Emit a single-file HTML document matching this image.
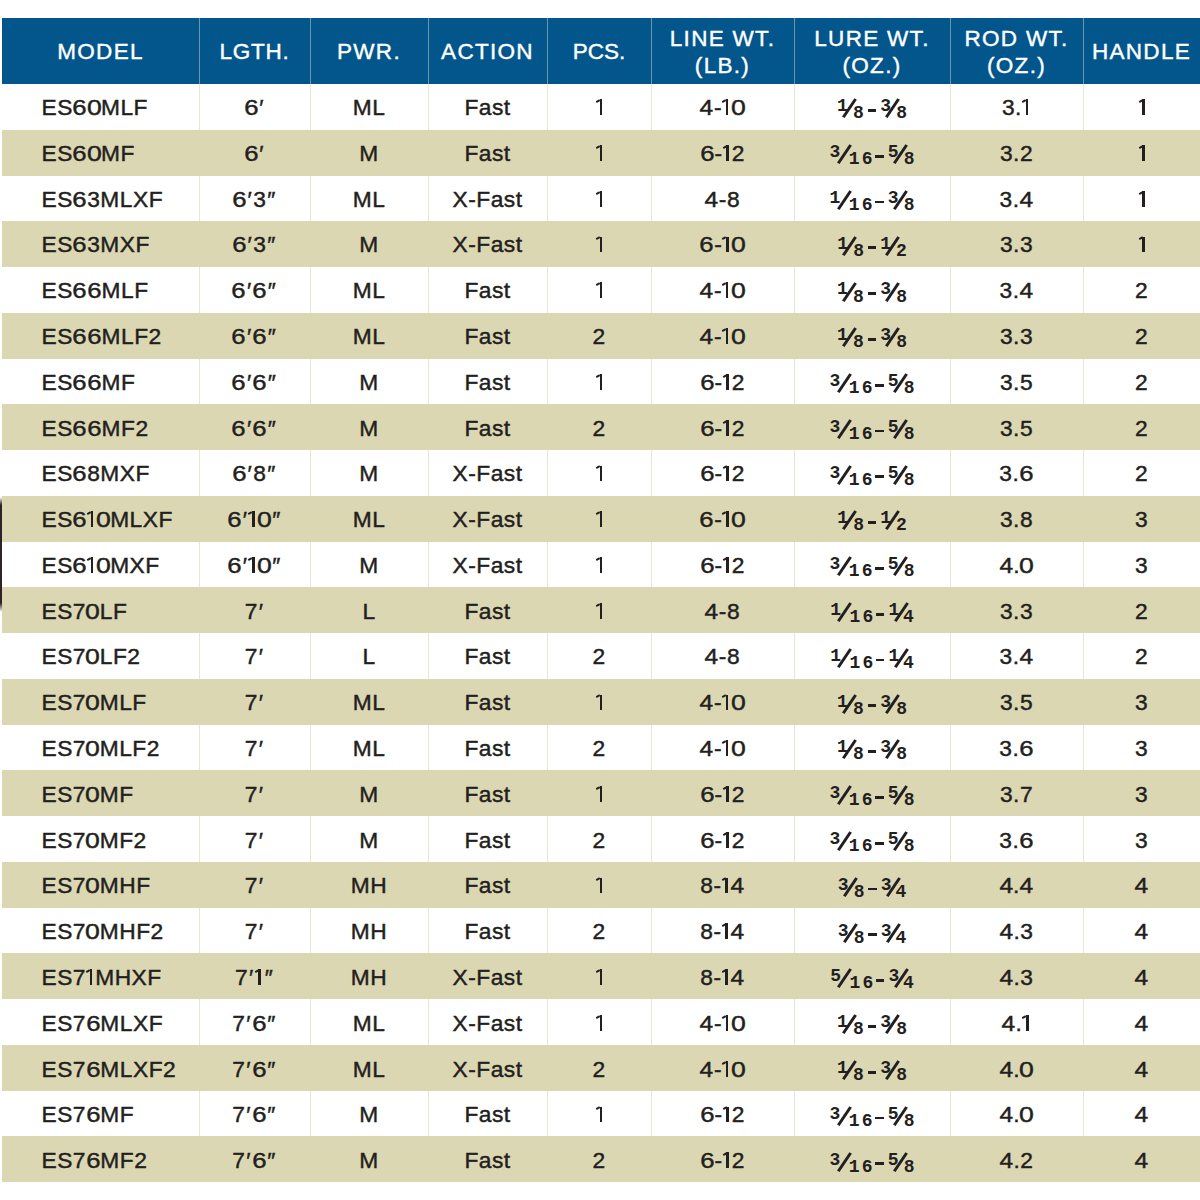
<!DOCTYPE html><html><head><meta charset="utf-8"><style>

*{margin:0;padding:0;box-sizing:border-box}
html,body{width:1200px;height:1200px;overflow:hidden;background:#fff}
body{position:relative;font-family:"Liberation Sans",sans-serif;color:#231f20}
.hdr{position:absolute;left:2px;top:18px;width:1198px;height:66px;background:#02568b}
.hc{position:absolute;top:19.2px;height:66px;display:flex;align-items:center;justify-content:center;text-align:center;color:#fff;font-size:22.5px;line-height:27.5px;letter-spacing:1.3px;-webkit-text-stroke:0.4px #fff;white-space:nowrap}
.hs{position:absolute;top:18px;height:66px;width:1px;background:#6e97a6}
.bs{position:absolute;top:84px;height:1098px;width:1px;background:#e7e5d3}
.tan{position:absolute;left:2px;width:1198px;background:#dcd7b3}
.c{position:absolute;text-align:center;font-size:22.75px;white-space:nowrap;letter-spacing:0.5px;-webkit-text-stroke:0.45px #231f20;padding-top:0.95px}
.c0{text-align:left;padding-left:39.5px}
.lw{letter-spacing:0}
.fn,.fd{font-family:"Liberation Mono",monospace;font-weight:bold;font-size:18px;position:relative;display:inline-block;letter-spacing:0;-webkit-text-stroke:0px #231f20}
.fn i,.fd i{font-style:normal;margin-left:2.3px}
.fn{top:-3.7px}
.fd{top:3.4px}
.fs{display:inline-block;width:5.2px;height:0;position:relative}
.fs::after{content:"";position:absolute;left:0.35px;top:-17.6px;width:2.5px;height:22.0px;background:#231f20;transform:rotate(34.0deg)}
.fs.c16::after{left:2.5500000000000003px}
.dash{display:inline-block;width:8.6px;height:2.8px;background:#231f20;vertical-align:3.1px;margin:0 4.0px 0 3.7px}
.one{display:inline-block;position:relative;width:9.2px;height:15.75px}
.one::before{content:"";position:absolute;left:5.3px;top:0;width:2.4px;height:100%;background:#231f20}
.one::after{content:"";position:absolute;left:1.6px;top:0.8px;width:4.4px;height:2.1px;background:#231f20;transform:rotate(-28.0deg)}
.o2::before{left:3.9px}
.o2::after{left:0.20000000000000018px}
.z{display:inline-block;transform:scaleX(1.17);margin:0 0.3px}
.s6{display:inline-block;transform:scaleX(1.13);margin:0 0.6px}
.s4{display:inline-block;transform:scaleX(1.08);margin:0 0.4px}
.pr{margin:0 0.9px}
.lm{position:absolute;left:0;top:497px;width:2px;height:115px;background:linear-gradient(#fff0 0px,#2d2428 8px,#2d2428 106px,#fff0 115px)}

</style></head><body>
<div class="bs" style="left:199px"></div>
<div class="bs" style="left:310px"></div>
<div class="bs" style="left:428px"></div>
<div class="bs" style="left:547px"></div>
<div class="bs" style="left:651px"></div>
<div class="bs" style="left:794px"></div>
<div class="bs" style="left:950px"></div>
<div class="bs" style="left:1083px"></div>
<div class="tan" style="top:129.75px;height:45.75px"></div>
<div class="tan" style="top:221.25px;height:45.75px"></div>
<div class="tan" style="top:312.75px;height:45.75px"></div>
<div class="tan" style="top:404.25px;height:45.75px"></div>
<div class="tan" style="top:495.75px;height:45.75px"></div>
<div class="tan" style="top:587.25px;height:45.75px"></div>
<div class="tan" style="top:678.75px;height:45.75px"></div>
<div class="tan" style="top:770.25px;height:45.75px"></div>
<div class="tan" style="top:861.75px;height:45.75px"></div>
<div class="tan" style="top:953.25px;height:45.75px"></div>
<div class="tan" style="top:1044.75px;height:45.75px"></div>
<div class="tan" style="top:1136.25px;height:45.75px"></div>
<div class="hdr"></div>
<div class="hs" style="left:199px"></div>
<div class="hs" style="left:310px"></div>
<div class="hs" style="left:428px"></div>
<div class="hs" style="left:547px"></div>
<div class="hs" style="left:651px"></div>
<div class="hs" style="left:794px"></div>
<div class="hs" style="left:950px"></div>
<div class="hs" style="left:1083px"></div>
<div class="hc" style="left:2px;width:197px"><div>MODEL</div></div>
<div class="hc" style="left:199px;width:111px;letter-spacing:0.75px"><div>LGTH.</div></div>
<div class="hc" style="left:310px;width:118px"><div>PWR.</div></div>
<div class="hc" style="left:428px;width:119px"><div>ACTION</div></div>
<div class="hc" style="left:547px;width:104px;letter-spacing:0.0px"><div>PCS.</div></div>
<div class="hc" style="left:651px;width:143px"><div>LINE WT.<br>(LB.)</div></div>
<div class="hc" style="left:794px;width:156px"><div>LURE WT.<br>(OZ.)</div></div>
<div class="hc" style="left:950px;width:133px"><div>ROD WT.<br>(OZ.)</div></div>
<div class="hc" style="left:1083px;width:117px"><div>HANDLE</div></div>
<div class="c c0" style="left:2px;width:197px;top:84.0px;height:45.75px;line-height:45.75px">ES<span class="s6">6</span><span class="z">0</span>MLF</div>
<div class="c" style="left:199px;width:111px;top:84.0px;height:45.75px;line-height:45.75px"><span class="s6">6</span><span class="pr">′</span></div>
<div class="c" style="left:310px;width:118px;top:84.0px;height:45.75px;line-height:45.75px">ML</div>
<div class="c" style="left:428px;width:119px;top:84.0px;height:45.75px;line-height:45.75px">Fast</div>
<div class="c" style="left:547px;width:104px;top:84.0px;height:45.75px;line-height:45.75px"><span class="one"></span></div>
<div class="c" style="left:651px;width:143px;top:84.0px;height:45.75px;line-height:45.75px"><span class="s4">4</span>-<span class="one o2"></span><span class="z">0</span></div>
<div class="c" style="left:794px;width:156px;top:84.0px;height:45.75px;line-height:45.75px"><span class="lw"><span class="fn">1</span><span class="fs"></span><span class="fd">8</span><span class="dash"></span><span class="fn">3</span><span class="fs"></span><span class="fd">8</span></span></div>
<div class="c" style="left:950px;width:133px;top:84.0px;height:45.75px;line-height:45.75px">3.<span class="one o2"></span></div>
<div class="c" style="left:1083px;width:117px;top:84.0px;height:45.75px;line-height:45.75px"><span class="one"></span></div>
<div class="c c0" style="left:2px;width:197px;top:129.795px;height:45.75px;line-height:45.75px">ES<span class="s6">6</span><span class="z">0</span>MF</div>
<div class="c" style="left:199px;width:111px;top:129.795px;height:45.75px;line-height:45.75px"><span class="s6">6</span><span class="pr">′</span></div>
<div class="c" style="left:310px;width:118px;top:129.795px;height:45.75px;line-height:45.75px">M</div>
<div class="c" style="left:428px;width:119px;top:129.795px;height:45.75px;line-height:45.75px">Fast</div>
<div class="c" style="left:547px;width:104px;top:129.795px;height:45.75px;line-height:45.75px"><span class="one"></span></div>
<div class="c" style="left:651px;width:143px;top:129.795px;height:45.75px;line-height:45.75px"><span class="s6">6</span>-<span class="one o2"></span>2</div>
<div class="c" style="left:794px;width:156px;top:129.795px;height:45.75px;line-height:45.75px"><span class="lw"><span class="fn">3</span><span class="fs c16"></span><span class="fd" style="margin-left:3.3px;margin-right:-1.2px">1<i>6</i></span><span class="dash"></span><span class="fn">5</span><span class="fs"></span><span class="fd">8</span></span></div>
<div class="c" style="left:950px;width:133px;top:129.795px;height:45.75px;line-height:45.75px">3.2</div>
<div class="c" style="left:1083px;width:117px;top:129.795px;height:45.75px;line-height:45.75px"><span class="one"></span></div>
<div class="c c0" style="left:2px;width:197px;top:175.59px;height:45.75px;line-height:45.75px">ES<span class="s6">6</span>3MLXF</div>
<div class="c" style="left:199px;width:111px;top:175.59px;height:45.75px;line-height:45.75px"><span class="s6">6</span><span class="pr">′</span>3<span class="pr">″</span></div>
<div class="c" style="left:310px;width:118px;top:175.59px;height:45.75px;line-height:45.75px">ML</div>
<div class="c" style="left:428px;width:119px;top:175.59px;height:45.75px;line-height:45.75px">X-Fast</div>
<div class="c" style="left:547px;width:104px;top:175.59px;height:45.75px;line-height:45.75px"><span class="one"></span></div>
<div class="c" style="left:651px;width:143px;top:175.59px;height:45.75px;line-height:45.75px"><span class="s4">4</span>-8</div>
<div class="c" style="left:794px;width:156px;top:175.59px;height:45.75px;line-height:45.75px"><span class="lw"><span class="fn">1</span><span class="fs c16"></span><span class="fd" style="margin-left:3.3px;margin-right:-1.2px">1<i>6</i></span><span class="dash"></span><span class="fn">3</span><span class="fs"></span><span class="fd">8</span></span></div>
<div class="c" style="left:950px;width:133px;top:175.59px;height:45.75px;line-height:45.75px">3.<span class="s4">4</span></div>
<div class="c" style="left:1083px;width:117px;top:175.59px;height:45.75px;line-height:45.75px"><span class="one"></span></div>
<div class="c c0" style="left:2px;width:197px;top:221.385px;height:45.75px;line-height:45.75px">ES<span class="s6">6</span>3MXF</div>
<div class="c" style="left:199px;width:111px;top:221.385px;height:45.75px;line-height:45.75px"><span class="s6">6</span><span class="pr">′</span>3<span class="pr">″</span></div>
<div class="c" style="left:310px;width:118px;top:221.385px;height:45.75px;line-height:45.75px">M</div>
<div class="c" style="left:428px;width:119px;top:221.385px;height:45.75px;line-height:45.75px">X-Fast</div>
<div class="c" style="left:547px;width:104px;top:221.385px;height:45.75px;line-height:45.75px"><span class="one"></span></div>
<div class="c" style="left:651px;width:143px;top:221.385px;height:45.75px;line-height:45.75px"><span class="s6">6</span>-<span class="one o2"></span><span class="z">0</span></div>
<div class="c" style="left:794px;width:156px;top:221.385px;height:45.75px;line-height:45.75px"><span class="lw"><span class="fn">1</span><span class="fs"></span><span class="fd">8</span><span class="dash"></span><span class="fn">1</span><span class="fs"></span><span class="fd" style="margin-left:-0.3px">2</span></span></div>
<div class="c" style="left:950px;width:133px;top:221.385px;height:45.75px;line-height:45.75px">3.3</div>
<div class="c" style="left:1083px;width:117px;top:221.385px;height:45.75px;line-height:45.75px"><span class="one"></span></div>
<div class="c c0" style="left:2px;width:197px;top:267.18px;height:45.75px;line-height:45.75px">ES<span class="s6">6</span><span class="s6">6</span>MLF</div>
<div class="c" style="left:199px;width:111px;top:267.18px;height:45.75px;line-height:45.75px"><span class="s6">6</span><span class="pr">′</span><span class="s6">6</span><span class="pr">″</span></div>
<div class="c" style="left:310px;width:118px;top:267.18px;height:45.75px;line-height:45.75px">ML</div>
<div class="c" style="left:428px;width:119px;top:267.18px;height:45.75px;line-height:45.75px">Fast</div>
<div class="c" style="left:547px;width:104px;top:267.18px;height:45.75px;line-height:45.75px"><span class="one"></span></div>
<div class="c" style="left:651px;width:143px;top:267.18px;height:45.75px;line-height:45.75px"><span class="s4">4</span>-<span class="one o2"></span><span class="z">0</span></div>
<div class="c" style="left:794px;width:156px;top:267.18px;height:45.75px;line-height:45.75px"><span class="lw"><span class="fn">1</span><span class="fs"></span><span class="fd">8</span><span class="dash"></span><span class="fn">3</span><span class="fs"></span><span class="fd">8</span></span></div>
<div class="c" style="left:950px;width:133px;top:267.18px;height:45.75px;line-height:45.75px">3.<span class="s4">4</span></div>
<div class="c" style="left:1083px;width:117px;top:267.18px;height:45.75px;line-height:45.75px">2</div>
<div class="c c0" style="left:2px;width:197px;top:312.975px;height:45.75px;line-height:45.75px">ES<span class="s6">6</span><span class="s6">6</span>MLF2</div>
<div class="c" style="left:199px;width:111px;top:312.975px;height:45.75px;line-height:45.75px"><span class="s6">6</span><span class="pr">′</span><span class="s6">6</span><span class="pr">″</span></div>
<div class="c" style="left:310px;width:118px;top:312.975px;height:45.75px;line-height:45.75px">ML</div>
<div class="c" style="left:428px;width:119px;top:312.975px;height:45.75px;line-height:45.75px">Fast</div>
<div class="c" style="left:547px;width:104px;top:312.975px;height:45.75px;line-height:45.75px">2</div>
<div class="c" style="left:651px;width:143px;top:312.975px;height:45.75px;line-height:45.75px"><span class="s4">4</span>-<span class="one o2"></span><span class="z">0</span></div>
<div class="c" style="left:794px;width:156px;top:312.975px;height:45.75px;line-height:45.75px"><span class="lw"><span class="fn">1</span><span class="fs"></span><span class="fd">8</span><span class="dash"></span><span class="fn">3</span><span class="fs"></span><span class="fd">8</span></span></div>
<div class="c" style="left:950px;width:133px;top:312.975px;height:45.75px;line-height:45.75px">3.3</div>
<div class="c" style="left:1083px;width:117px;top:312.975px;height:45.75px;line-height:45.75px">2</div>
<div class="c c0" style="left:2px;width:197px;top:358.77px;height:45.75px;line-height:45.75px">ES<span class="s6">6</span><span class="s6">6</span>MF</div>
<div class="c" style="left:199px;width:111px;top:358.77px;height:45.75px;line-height:45.75px"><span class="s6">6</span><span class="pr">′</span><span class="s6">6</span><span class="pr">″</span></div>
<div class="c" style="left:310px;width:118px;top:358.77px;height:45.75px;line-height:45.75px">M</div>
<div class="c" style="left:428px;width:119px;top:358.77px;height:45.75px;line-height:45.75px">Fast</div>
<div class="c" style="left:547px;width:104px;top:358.77px;height:45.75px;line-height:45.75px"><span class="one"></span></div>
<div class="c" style="left:651px;width:143px;top:358.77px;height:45.75px;line-height:45.75px"><span class="s6">6</span>-<span class="one o2"></span>2</div>
<div class="c" style="left:794px;width:156px;top:358.77px;height:45.75px;line-height:45.75px"><span class="lw"><span class="fn">3</span><span class="fs c16"></span><span class="fd" style="margin-left:3.3px;margin-right:-1.2px">1<i>6</i></span><span class="dash"></span><span class="fn">5</span><span class="fs"></span><span class="fd">8</span></span></div>
<div class="c" style="left:950px;width:133px;top:358.77px;height:45.75px;line-height:45.75px">3.5</div>
<div class="c" style="left:1083px;width:117px;top:358.77px;height:45.75px;line-height:45.75px">2</div>
<div class="c c0" style="left:2px;width:197px;top:404.565px;height:45.75px;line-height:45.75px">ES<span class="s6">6</span><span class="s6">6</span>MF2</div>
<div class="c" style="left:199px;width:111px;top:404.565px;height:45.75px;line-height:45.75px"><span class="s6">6</span><span class="pr">′</span><span class="s6">6</span><span class="pr">″</span></div>
<div class="c" style="left:310px;width:118px;top:404.565px;height:45.75px;line-height:45.75px">M</div>
<div class="c" style="left:428px;width:119px;top:404.565px;height:45.75px;line-height:45.75px">Fast</div>
<div class="c" style="left:547px;width:104px;top:404.565px;height:45.75px;line-height:45.75px">2</div>
<div class="c" style="left:651px;width:143px;top:404.565px;height:45.75px;line-height:45.75px"><span class="s6">6</span>-<span class="one o2"></span>2</div>
<div class="c" style="left:794px;width:156px;top:404.565px;height:45.75px;line-height:45.75px"><span class="lw"><span class="fn">3</span><span class="fs c16"></span><span class="fd" style="margin-left:3.3px;margin-right:-1.2px">1<i>6</i></span><span class="dash"></span><span class="fn">5</span><span class="fs"></span><span class="fd">8</span></span></div>
<div class="c" style="left:950px;width:133px;top:404.565px;height:45.75px;line-height:45.75px">3.5</div>
<div class="c" style="left:1083px;width:117px;top:404.565px;height:45.75px;line-height:45.75px">2</div>
<div class="c c0" style="left:2px;width:197px;top:450.36px;height:45.75px;line-height:45.75px">ES<span class="s6">6</span>8MXF</div>
<div class="c" style="left:199px;width:111px;top:450.36px;height:45.75px;line-height:45.75px"><span class="s6">6</span><span class="pr">′</span>8<span class="pr">″</span></div>
<div class="c" style="left:310px;width:118px;top:450.36px;height:45.75px;line-height:45.75px">M</div>
<div class="c" style="left:428px;width:119px;top:450.36px;height:45.75px;line-height:45.75px">X-Fast</div>
<div class="c" style="left:547px;width:104px;top:450.36px;height:45.75px;line-height:45.75px"><span class="one"></span></div>
<div class="c" style="left:651px;width:143px;top:450.36px;height:45.75px;line-height:45.75px"><span class="s6">6</span>-<span class="one o2"></span>2</div>
<div class="c" style="left:794px;width:156px;top:450.36px;height:45.75px;line-height:45.75px"><span class="lw"><span class="fn">3</span><span class="fs c16"></span><span class="fd" style="margin-left:3.3px;margin-right:-1.2px">1<i>6</i></span><span class="dash"></span><span class="fn">5</span><span class="fs"></span><span class="fd">8</span></span></div>
<div class="c" style="left:950px;width:133px;top:450.36px;height:45.75px;line-height:45.75px">3.<span class="s6">6</span></div>
<div class="c" style="left:1083px;width:117px;top:450.36px;height:45.75px;line-height:45.75px">2</div>
<div class="c c0" style="left:2px;width:197px;top:496.155px;height:45.75px;line-height:45.75px">ES<span class="s6">6</span><span class="one o2"></span><span class="z">0</span>MLXF</div>
<div class="c" style="left:199px;width:111px;top:496.155px;height:45.75px;line-height:45.75px"><span class="s6">6</span><span class="pr">′</span><span class="one o2"></span><span class="z">0</span><span class="pr">″</span></div>
<div class="c" style="left:310px;width:118px;top:496.155px;height:45.75px;line-height:45.75px">ML</div>
<div class="c" style="left:428px;width:119px;top:496.155px;height:45.75px;line-height:45.75px">X-Fast</div>
<div class="c" style="left:547px;width:104px;top:496.155px;height:45.75px;line-height:45.75px"><span class="one"></span></div>
<div class="c" style="left:651px;width:143px;top:496.155px;height:45.75px;line-height:45.75px"><span class="s6">6</span>-<span class="one o2"></span><span class="z">0</span></div>
<div class="c" style="left:794px;width:156px;top:496.155px;height:45.75px;line-height:45.75px"><span class="lw"><span class="fn">1</span><span class="fs"></span><span class="fd">8</span><span class="dash"></span><span class="fn">1</span><span class="fs"></span><span class="fd" style="margin-left:-0.3px">2</span></span></div>
<div class="c" style="left:950px;width:133px;top:496.155px;height:45.75px;line-height:45.75px">3.8</div>
<div class="c" style="left:1083px;width:117px;top:496.155px;height:45.75px;line-height:45.75px">3</div>
<div class="c c0" style="left:2px;width:197px;top:541.95px;height:45.75px;line-height:45.75px">ES<span class="s6">6</span><span class="one o2"></span><span class="z">0</span>MXF</div>
<div class="c" style="left:199px;width:111px;top:541.95px;height:45.75px;line-height:45.75px"><span class="s6">6</span><span class="pr">′</span><span class="one o2"></span><span class="z">0</span><span class="pr">″</span></div>
<div class="c" style="left:310px;width:118px;top:541.95px;height:45.75px;line-height:45.75px">M</div>
<div class="c" style="left:428px;width:119px;top:541.95px;height:45.75px;line-height:45.75px">X-Fast</div>
<div class="c" style="left:547px;width:104px;top:541.95px;height:45.75px;line-height:45.75px"><span class="one"></span></div>
<div class="c" style="left:651px;width:143px;top:541.95px;height:45.75px;line-height:45.75px"><span class="s6">6</span>-<span class="one o2"></span>2</div>
<div class="c" style="left:794px;width:156px;top:541.95px;height:45.75px;line-height:45.75px"><span class="lw"><span class="fn">3</span><span class="fs c16"></span><span class="fd" style="margin-left:3.3px;margin-right:-1.2px">1<i>6</i></span><span class="dash"></span><span class="fn">5</span><span class="fs"></span><span class="fd">8</span></span></div>
<div class="c" style="left:950px;width:133px;top:541.95px;height:45.75px;line-height:45.75px"><span class="s4">4</span>.<span class="z">0</span></div>
<div class="c" style="left:1083px;width:117px;top:541.95px;height:45.75px;line-height:45.75px">3</div>
<div class="c c0" style="left:2px;width:197px;top:587.745px;height:45.75px;line-height:45.75px">ES7<span class="z">0</span>LF</div>
<div class="c" style="left:199px;width:111px;top:587.745px;height:45.75px;line-height:45.75px">7<span class="pr">′</span></div>
<div class="c" style="left:310px;width:118px;top:587.745px;height:45.75px;line-height:45.75px">L</div>
<div class="c" style="left:428px;width:119px;top:587.745px;height:45.75px;line-height:45.75px">Fast</div>
<div class="c" style="left:547px;width:104px;top:587.745px;height:45.75px;line-height:45.75px"><span class="one"></span></div>
<div class="c" style="left:651px;width:143px;top:587.745px;height:45.75px;line-height:45.75px"><span class="s4">4</span>-8</div>
<div class="c" style="left:794px;width:156px;top:587.745px;height:45.75px;line-height:45.75px"><span class="lw"><span class="fn">1</span><span class="fs c16"></span><span class="fd" style="margin-left:3.3px;margin-right:-1.2px">1<i>6</i></span><span class="dash"></span><span class="fn">1</span><span class="fs"></span><span class="fd" style="margin-left:-1.4px">4</span></span></div>
<div class="c" style="left:950px;width:133px;top:587.745px;height:45.75px;line-height:45.75px">3.3</div>
<div class="c" style="left:1083px;width:117px;top:587.745px;height:45.75px;line-height:45.75px">2</div>
<div class="c c0" style="left:2px;width:197px;top:633.54px;height:45.75px;line-height:45.75px">ES7<span class="z">0</span>LF2</div>
<div class="c" style="left:199px;width:111px;top:633.54px;height:45.75px;line-height:45.75px">7<span class="pr">′</span></div>
<div class="c" style="left:310px;width:118px;top:633.54px;height:45.75px;line-height:45.75px">L</div>
<div class="c" style="left:428px;width:119px;top:633.54px;height:45.75px;line-height:45.75px">Fast</div>
<div class="c" style="left:547px;width:104px;top:633.54px;height:45.75px;line-height:45.75px">2</div>
<div class="c" style="left:651px;width:143px;top:633.54px;height:45.75px;line-height:45.75px"><span class="s4">4</span>-8</div>
<div class="c" style="left:794px;width:156px;top:633.54px;height:45.75px;line-height:45.75px"><span class="lw"><span class="fn">1</span><span class="fs c16"></span><span class="fd" style="margin-left:3.3px;margin-right:-1.2px">1<i>6</i></span><span class="dash"></span><span class="fn">1</span><span class="fs"></span><span class="fd" style="margin-left:-1.4px">4</span></span></div>
<div class="c" style="left:950px;width:133px;top:633.54px;height:45.75px;line-height:45.75px">3.<span class="s4">4</span></div>
<div class="c" style="left:1083px;width:117px;top:633.54px;height:45.75px;line-height:45.75px">2</div>
<div class="c c0" style="left:2px;width:197px;top:679.335px;height:45.75px;line-height:45.75px">ES7<span class="z">0</span>MLF</div>
<div class="c" style="left:199px;width:111px;top:679.335px;height:45.75px;line-height:45.75px">7<span class="pr">′</span></div>
<div class="c" style="left:310px;width:118px;top:679.335px;height:45.75px;line-height:45.75px">ML</div>
<div class="c" style="left:428px;width:119px;top:679.335px;height:45.75px;line-height:45.75px">Fast</div>
<div class="c" style="left:547px;width:104px;top:679.335px;height:45.75px;line-height:45.75px"><span class="one"></span></div>
<div class="c" style="left:651px;width:143px;top:679.335px;height:45.75px;line-height:45.75px"><span class="s4">4</span>-<span class="one o2"></span><span class="z">0</span></div>
<div class="c" style="left:794px;width:156px;top:679.335px;height:45.75px;line-height:45.75px"><span class="lw"><span class="fn">1</span><span class="fs"></span><span class="fd">8</span><span class="dash"></span><span class="fn">3</span><span class="fs"></span><span class="fd">8</span></span></div>
<div class="c" style="left:950px;width:133px;top:679.335px;height:45.75px;line-height:45.75px">3.5</div>
<div class="c" style="left:1083px;width:117px;top:679.335px;height:45.75px;line-height:45.75px">3</div>
<div class="c c0" style="left:2px;width:197px;top:725.13px;height:45.75px;line-height:45.75px">ES7<span class="z">0</span>MLF2</div>
<div class="c" style="left:199px;width:111px;top:725.13px;height:45.75px;line-height:45.75px">7<span class="pr">′</span></div>
<div class="c" style="left:310px;width:118px;top:725.13px;height:45.75px;line-height:45.75px">ML</div>
<div class="c" style="left:428px;width:119px;top:725.13px;height:45.75px;line-height:45.75px">Fast</div>
<div class="c" style="left:547px;width:104px;top:725.13px;height:45.75px;line-height:45.75px">2</div>
<div class="c" style="left:651px;width:143px;top:725.13px;height:45.75px;line-height:45.75px"><span class="s4">4</span>-<span class="one o2"></span><span class="z">0</span></div>
<div class="c" style="left:794px;width:156px;top:725.13px;height:45.75px;line-height:45.75px"><span class="lw"><span class="fn">1</span><span class="fs"></span><span class="fd">8</span><span class="dash"></span><span class="fn">3</span><span class="fs"></span><span class="fd">8</span></span></div>
<div class="c" style="left:950px;width:133px;top:725.13px;height:45.75px;line-height:45.75px">3.<span class="s6">6</span></div>
<div class="c" style="left:1083px;width:117px;top:725.13px;height:45.75px;line-height:45.75px">3</div>
<div class="c c0" style="left:2px;width:197px;top:770.925px;height:45.75px;line-height:45.75px">ES7<span class="z">0</span>MF</div>
<div class="c" style="left:199px;width:111px;top:770.925px;height:45.75px;line-height:45.75px">7<span class="pr">′</span></div>
<div class="c" style="left:310px;width:118px;top:770.925px;height:45.75px;line-height:45.75px">M</div>
<div class="c" style="left:428px;width:119px;top:770.925px;height:45.75px;line-height:45.75px">Fast</div>
<div class="c" style="left:547px;width:104px;top:770.925px;height:45.75px;line-height:45.75px"><span class="one"></span></div>
<div class="c" style="left:651px;width:143px;top:770.925px;height:45.75px;line-height:45.75px"><span class="s6">6</span>-<span class="one o2"></span>2</div>
<div class="c" style="left:794px;width:156px;top:770.925px;height:45.75px;line-height:45.75px"><span class="lw"><span class="fn">3</span><span class="fs c16"></span><span class="fd" style="margin-left:3.3px;margin-right:-1.2px">1<i>6</i></span><span class="dash"></span><span class="fn">5</span><span class="fs"></span><span class="fd">8</span></span></div>
<div class="c" style="left:950px;width:133px;top:770.925px;height:45.75px;line-height:45.75px">3.7</div>
<div class="c" style="left:1083px;width:117px;top:770.925px;height:45.75px;line-height:45.75px">3</div>
<div class="c c0" style="left:2px;width:197px;top:816.72px;height:45.75px;line-height:45.75px">ES7<span class="z">0</span>MF2</div>
<div class="c" style="left:199px;width:111px;top:816.72px;height:45.75px;line-height:45.75px">7<span class="pr">′</span></div>
<div class="c" style="left:310px;width:118px;top:816.72px;height:45.75px;line-height:45.75px">M</div>
<div class="c" style="left:428px;width:119px;top:816.72px;height:45.75px;line-height:45.75px">Fast</div>
<div class="c" style="left:547px;width:104px;top:816.72px;height:45.75px;line-height:45.75px">2</div>
<div class="c" style="left:651px;width:143px;top:816.72px;height:45.75px;line-height:45.75px"><span class="s6">6</span>-<span class="one o2"></span>2</div>
<div class="c" style="left:794px;width:156px;top:816.72px;height:45.75px;line-height:45.75px"><span class="lw"><span class="fn">3</span><span class="fs c16"></span><span class="fd" style="margin-left:3.3px;margin-right:-1.2px">1<i>6</i></span><span class="dash"></span><span class="fn">5</span><span class="fs"></span><span class="fd">8</span></span></div>
<div class="c" style="left:950px;width:133px;top:816.72px;height:45.75px;line-height:45.75px">3.<span class="s6">6</span></div>
<div class="c" style="left:1083px;width:117px;top:816.72px;height:45.75px;line-height:45.75px">3</div>
<div class="c c0" style="left:2px;width:197px;top:862.515px;height:45.75px;line-height:45.75px">ES7<span class="z">0</span>MHF</div>
<div class="c" style="left:199px;width:111px;top:862.515px;height:45.75px;line-height:45.75px">7<span class="pr">′</span></div>
<div class="c" style="left:310px;width:118px;top:862.515px;height:45.75px;line-height:45.75px">MH</div>
<div class="c" style="left:428px;width:119px;top:862.515px;height:45.75px;line-height:45.75px">Fast</div>
<div class="c" style="left:547px;width:104px;top:862.515px;height:45.75px;line-height:45.75px"><span class="one"></span></div>
<div class="c" style="left:651px;width:143px;top:862.515px;height:45.75px;line-height:45.75px">8-<span class="one o2"></span><span class="s4">4</span></div>
<div class="c" style="left:794px;width:156px;top:862.515px;height:45.75px;line-height:45.75px"><span class="lw"><span class="fn">3</span><span class="fs"></span><span class="fd">8</span><span class="dash"></span><span class="fn">3</span><span class="fs"></span><span class="fd" style="margin-left:-1.4px">4</span></span></div>
<div class="c" style="left:950px;width:133px;top:862.515px;height:45.75px;line-height:45.75px"><span class="s4">4</span>.<span class="s4">4</span></div>
<div class="c" style="left:1083px;width:117px;top:862.515px;height:45.75px;line-height:45.75px"><span class="s4">4</span></div>
<div class="c c0" style="left:2px;width:197px;top:908.31px;height:45.75px;line-height:45.75px">ES7<span class="z">0</span>MHF2</div>
<div class="c" style="left:199px;width:111px;top:908.31px;height:45.75px;line-height:45.75px">7<span class="pr">′</span></div>
<div class="c" style="left:310px;width:118px;top:908.31px;height:45.75px;line-height:45.75px">MH</div>
<div class="c" style="left:428px;width:119px;top:908.31px;height:45.75px;line-height:45.75px">Fast</div>
<div class="c" style="left:547px;width:104px;top:908.31px;height:45.75px;line-height:45.75px">2</div>
<div class="c" style="left:651px;width:143px;top:908.31px;height:45.75px;line-height:45.75px">8-<span class="one o2"></span><span class="s4">4</span></div>
<div class="c" style="left:794px;width:156px;top:908.31px;height:45.75px;line-height:45.75px"><span class="lw"><span class="fn">3</span><span class="fs"></span><span class="fd">8</span><span class="dash"></span><span class="fn">3</span><span class="fs"></span><span class="fd" style="margin-left:-1.4px">4</span></span></div>
<div class="c" style="left:950px;width:133px;top:908.31px;height:45.75px;line-height:45.75px"><span class="s4">4</span>.3</div>
<div class="c" style="left:1083px;width:117px;top:908.31px;height:45.75px;line-height:45.75px"><span class="s4">4</span></div>
<div class="c c0" style="left:2px;width:197px;top:954.105px;height:45.75px;line-height:45.75px">ES7<span class="one o2"></span>MHXF</div>
<div class="c" style="left:199px;width:111px;top:954.105px;height:45.75px;line-height:45.75px">7<span class="pr">′</span><span class="one o2"></span><span class="pr">″</span></div>
<div class="c" style="left:310px;width:118px;top:954.105px;height:45.75px;line-height:45.75px">MH</div>
<div class="c" style="left:428px;width:119px;top:954.105px;height:45.75px;line-height:45.75px">X-Fast</div>
<div class="c" style="left:547px;width:104px;top:954.105px;height:45.75px;line-height:45.75px"><span class="one"></span></div>
<div class="c" style="left:651px;width:143px;top:954.105px;height:45.75px;line-height:45.75px">8-<span class="one o2"></span><span class="s4">4</span></div>
<div class="c" style="left:794px;width:156px;top:954.105px;height:45.75px;line-height:45.75px"><span class="lw"><span class="fn">5</span><span class="fs c16"></span><span class="fd" style="margin-left:3.3px;margin-right:-1.2px">1<i>6</i></span><span class="dash"></span><span class="fn">3</span><span class="fs"></span><span class="fd" style="margin-left:-1.4px">4</span></span></div>
<div class="c" style="left:950px;width:133px;top:954.105px;height:45.75px;line-height:45.75px"><span class="s4">4</span>.3</div>
<div class="c" style="left:1083px;width:117px;top:954.105px;height:45.75px;line-height:45.75px"><span class="s4">4</span></div>
<div class="c c0" style="left:2px;width:197px;top:999.9px;height:45.75px;line-height:45.75px">ES7<span class="s6">6</span>MLXF</div>
<div class="c" style="left:199px;width:111px;top:999.9px;height:45.75px;line-height:45.75px">7<span class="pr">′</span><span class="s6">6</span><span class="pr">″</span></div>
<div class="c" style="left:310px;width:118px;top:999.9px;height:45.75px;line-height:45.75px">ML</div>
<div class="c" style="left:428px;width:119px;top:999.9px;height:45.75px;line-height:45.75px">X-Fast</div>
<div class="c" style="left:547px;width:104px;top:999.9px;height:45.75px;line-height:45.75px"><span class="one"></span></div>
<div class="c" style="left:651px;width:143px;top:999.9px;height:45.75px;line-height:45.75px"><span class="s4">4</span>-<span class="one o2"></span><span class="z">0</span></div>
<div class="c" style="left:794px;width:156px;top:999.9px;height:45.75px;line-height:45.75px"><span class="lw"><span class="fn">1</span><span class="fs"></span><span class="fd">8</span><span class="dash"></span><span class="fn">3</span><span class="fs"></span><span class="fd">8</span></span></div>
<div class="c" style="left:950px;width:133px;top:999.9px;height:45.75px;line-height:45.75px"><span class="s4">4</span>.<span class="one o2"></span></div>
<div class="c" style="left:1083px;width:117px;top:999.9px;height:45.75px;line-height:45.75px"><span class="s4">4</span></div>
<div class="c c0" style="left:2px;width:197px;top:1045.695px;height:45.75px;line-height:45.75px">ES7<span class="s6">6</span>MLXF2</div>
<div class="c" style="left:199px;width:111px;top:1045.695px;height:45.75px;line-height:45.75px">7<span class="pr">′</span><span class="s6">6</span><span class="pr">″</span></div>
<div class="c" style="left:310px;width:118px;top:1045.695px;height:45.75px;line-height:45.75px">ML</div>
<div class="c" style="left:428px;width:119px;top:1045.695px;height:45.75px;line-height:45.75px">X-Fast</div>
<div class="c" style="left:547px;width:104px;top:1045.695px;height:45.75px;line-height:45.75px">2</div>
<div class="c" style="left:651px;width:143px;top:1045.695px;height:45.75px;line-height:45.75px"><span class="s4">4</span>-<span class="one o2"></span><span class="z">0</span></div>
<div class="c" style="left:794px;width:156px;top:1045.695px;height:45.75px;line-height:45.75px"><span class="lw"><span class="fn">1</span><span class="fs"></span><span class="fd">8</span><span class="dash"></span><span class="fn">3</span><span class="fs"></span><span class="fd">8</span></span></div>
<div class="c" style="left:950px;width:133px;top:1045.695px;height:45.75px;line-height:45.75px"><span class="s4">4</span>.<span class="z">0</span></div>
<div class="c" style="left:1083px;width:117px;top:1045.695px;height:45.75px;line-height:45.75px"><span class="s4">4</span></div>
<div class="c c0" style="left:2px;width:197px;top:1091.49px;height:45.75px;line-height:45.75px">ES7<span class="s6">6</span>MF</div>
<div class="c" style="left:199px;width:111px;top:1091.49px;height:45.75px;line-height:45.75px">7<span class="pr">′</span><span class="s6">6</span><span class="pr">″</span></div>
<div class="c" style="left:310px;width:118px;top:1091.49px;height:45.75px;line-height:45.75px">M</div>
<div class="c" style="left:428px;width:119px;top:1091.49px;height:45.75px;line-height:45.75px">Fast</div>
<div class="c" style="left:547px;width:104px;top:1091.49px;height:45.75px;line-height:45.75px"><span class="one"></span></div>
<div class="c" style="left:651px;width:143px;top:1091.49px;height:45.75px;line-height:45.75px"><span class="s6">6</span>-<span class="one o2"></span>2</div>
<div class="c" style="left:794px;width:156px;top:1091.49px;height:45.75px;line-height:45.75px"><span class="lw"><span class="fn">3</span><span class="fs c16"></span><span class="fd" style="margin-left:3.3px;margin-right:-1.2px">1<i>6</i></span><span class="dash"></span><span class="fn">5</span><span class="fs"></span><span class="fd">8</span></span></div>
<div class="c" style="left:950px;width:133px;top:1091.49px;height:45.75px;line-height:45.75px"><span class="s4">4</span>.<span class="z">0</span></div>
<div class="c" style="left:1083px;width:117px;top:1091.49px;height:45.75px;line-height:45.75px"><span class="s4">4</span></div>
<div class="c c0" style="left:2px;width:197px;top:1137.285px;height:45.75px;line-height:45.75px">ES7<span class="s6">6</span>MF2</div>
<div class="c" style="left:199px;width:111px;top:1137.285px;height:45.75px;line-height:45.75px">7<span class="pr">′</span><span class="s6">6</span><span class="pr">″</span></div>
<div class="c" style="left:310px;width:118px;top:1137.285px;height:45.75px;line-height:45.75px">M</div>
<div class="c" style="left:428px;width:119px;top:1137.285px;height:45.75px;line-height:45.75px">Fast</div>
<div class="c" style="left:547px;width:104px;top:1137.285px;height:45.75px;line-height:45.75px">2</div>
<div class="c" style="left:651px;width:143px;top:1137.285px;height:45.75px;line-height:45.75px"><span class="s6">6</span>-<span class="one o2"></span>2</div>
<div class="c" style="left:794px;width:156px;top:1137.285px;height:45.75px;line-height:45.75px"><span class="lw"><span class="fn">3</span><span class="fs c16"></span><span class="fd" style="margin-left:3.3px;margin-right:-1.2px">1<i>6</i></span><span class="dash"></span><span class="fn">5</span><span class="fs"></span><span class="fd">8</span></span></div>
<div class="c" style="left:950px;width:133px;top:1137.285px;height:45.75px;line-height:45.75px"><span class="s4">4</span>.2</div>
<div class="c" style="left:1083px;width:117px;top:1137.285px;height:45.75px;line-height:45.75px"><span class="s4">4</span></div>
<div class="lm"></div>
</body></html>
